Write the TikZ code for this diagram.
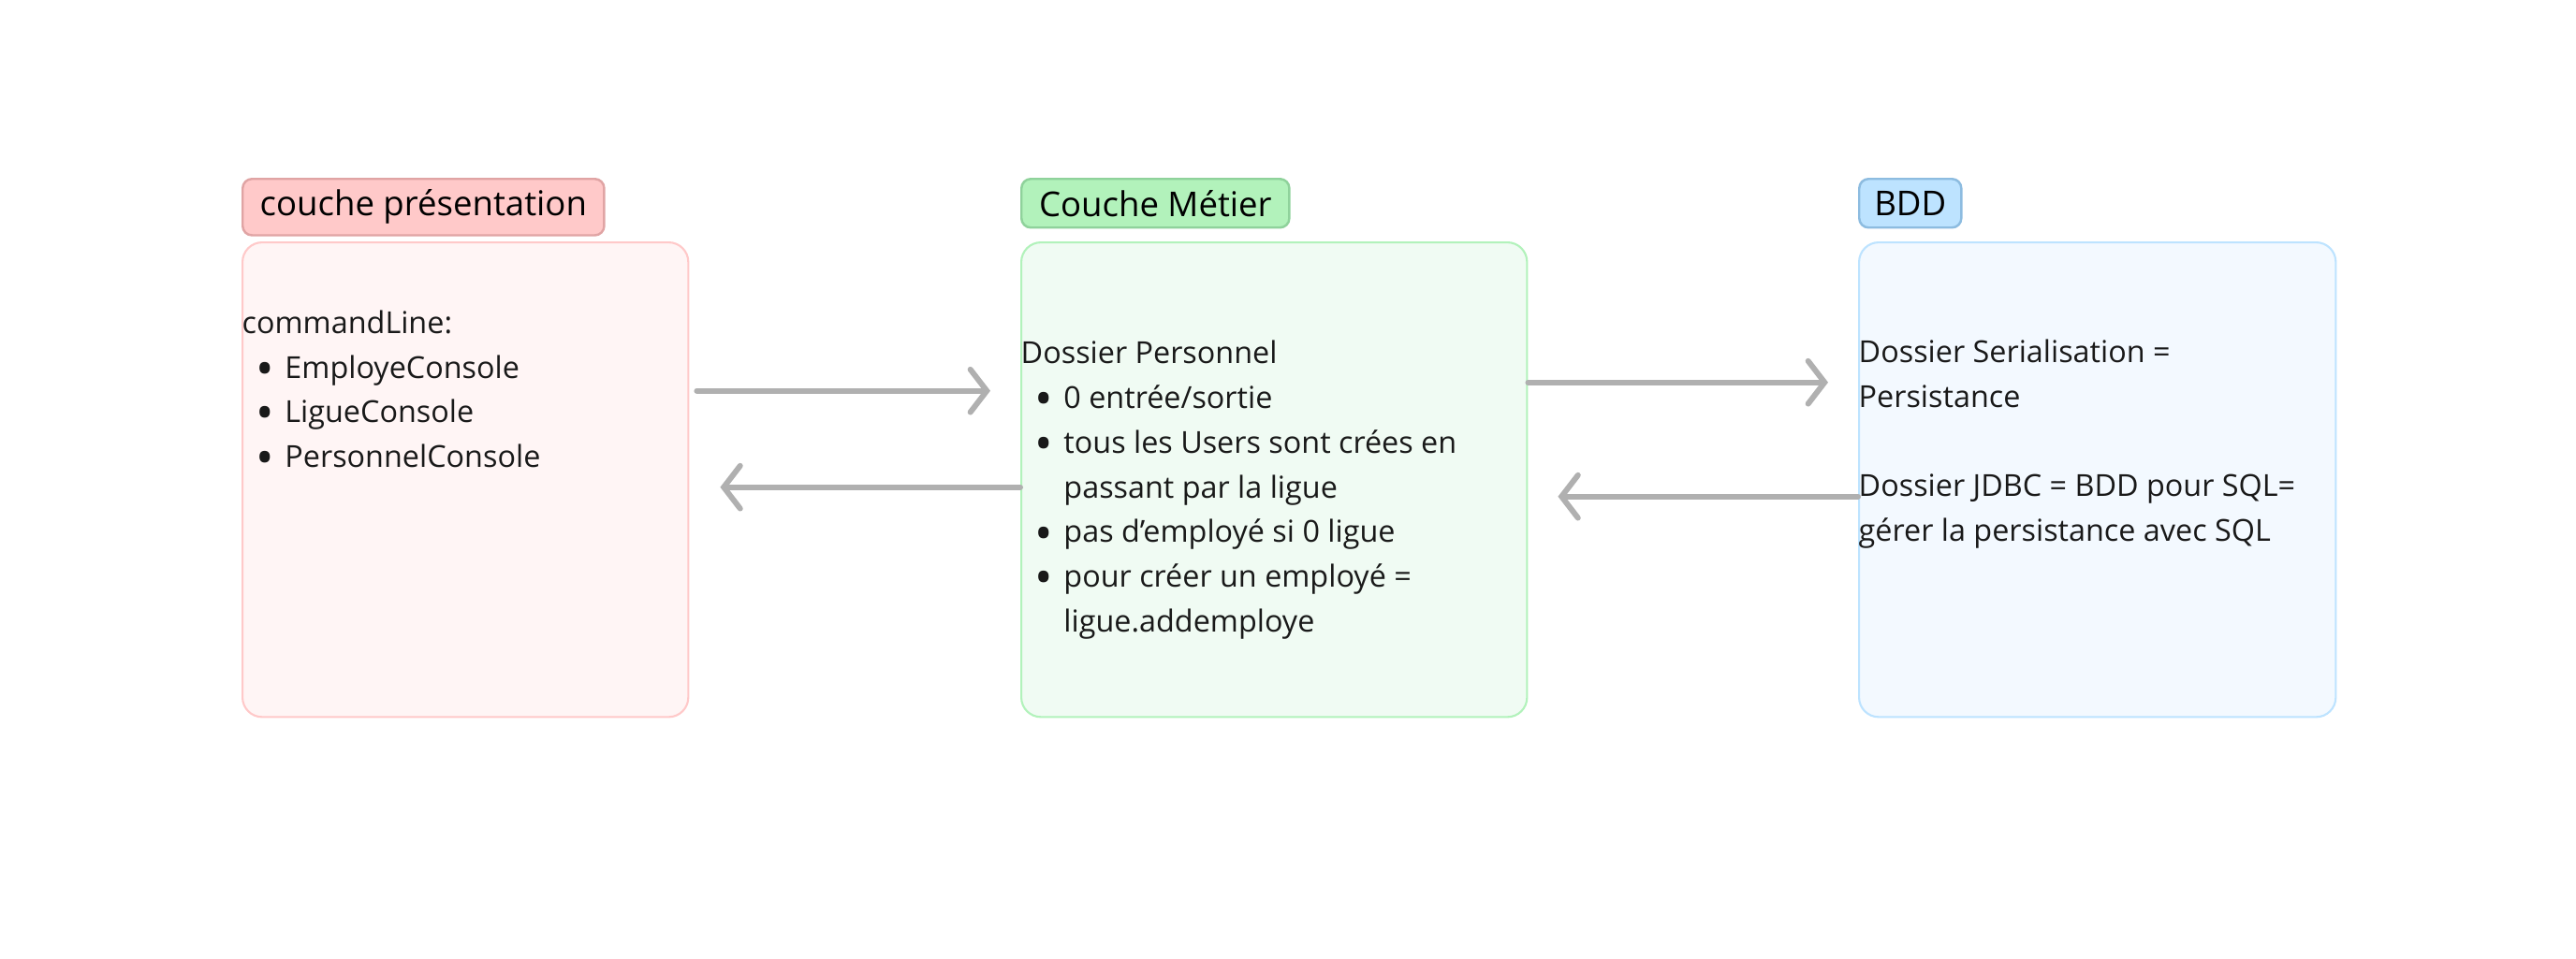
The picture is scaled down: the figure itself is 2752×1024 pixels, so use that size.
\documentclass[tikz,border=0pt]{standalone}
\usepackage{fontspec}
\setmainfont{Open Sans}
\usetikzlibrary{positioning, arrows.meta, calc}

\definecolor{roseTitre}{HTML}{FFC9C9}
\definecolor{roseBord}{HTML}{E0A4A4}
\definecolor{roseFond}{HTML}{FFF5F5}
\definecolor{vertTitre}{HTML}{B2F2BB}
\definecolor{vertBord}{HTML}{8FD29B}
\definecolor{vertFond}{HTML}{F0FBF3}
\definecolor{bleuTitre}{HTML}{BDE3FF}
\definecolor{bleuBord}{HTML}{8DBCE0}
\definecolor{bleuFond}{HTML}{F3F9FF}
\definecolor{fleche}{HTML}{B0B0B0}

\newcommand{\puce}{\makebox[13pt][l]{\hspace{4.2pt}\raisebox{-2.3pt}{\scalebox{1.6}{\textbullet}}}}
\newcommand{\suite}{\hspace*{13pt}}

\begin{document}
\begin{tikzpicture}[
    x=0.01cm, y=0.01cm,
    titre/.style={draw, rounded corners=0.1cm, line width=0.7pt, minimum height=0.52cm, inner xsep=4pt, anchor=north west, font=\fontsize{10.4}{12}\selectfont},
    couche/.style={draw, rounded corners=0.21cm, line width=0.6pt, anchor=north west, minimum height=5.07cm},
    contenu/.style={anchor=west, inner sep=0pt, align=left, font=\fontsize{9.2}{13.6}\selectfont, text=black!90},
    fleche/.style={draw=fleche, line width=1.7pt, line cap=round, -{Straight Barb[length=5pt, width=13pt, line cap=round]}}
]
    \useasboundingbox (0,0) rectangle (2752,-1024);

    % ================= TITRES =================
    \node[titre, fill=roseTitre, draw=roseBord, minimum width=3.86cm] (tpres) at (258,-190) {couche présentation};
    \node[titre, fill=vertTitre, draw=vertBord, minimum width=2.86cm] (tmetier) at (1090,-190) {Couche Métier};
    \node[titre, fill=bleuTitre, draw=bleuBord, minimum width=1.09cm] (tbdd) at (1985,-190) {BDD};

    % ================= COUCHES =================
    \node[couche, fill=roseFond, draw=roseTitre, minimum width=4.76cm] (pres) at (258,-258) {};
    \node[couche, fill=vertFond, draw=vertTitre, minimum width=5.40cm] (metier) at (1090,-258) {};
    \node[couche, fill=bleuFond, draw=bleuTitre, minimum width=5.09cm] (bdd) at (1985,-258) {};

    \node[contenu] (txtpres) at ($(pres.west)+(0,93)$) {commandLine:\\
        \puce EmployeConsole\\
        \puce LigueConsole\\
        \puce PersonnelConsole};
    \node[contenu] (txtmetier) at ($(metier.west)+(0,-11)$) {Dossier Personnel\\
        \puce 0 entrée/sortie\\
        \puce tous les Users sont crées en\\
        \suite passant par la ligue\\
        \puce pas d’employé si 0 ligue\\
        \puce pour créer un employé =\\
        \suite ligue.addemploye};
    \node[contenu] (txtbdd) at ($(bdd.west)+(0,38)$) {Dossier Serialisation =\\
        Persistance\\
        \mbox{}\\
        Dossier JDBC = BDD pour SQL=\\
        gérer la persistance avec SQL};

    % ================= FLECHES =================
    \draw[fleche] ($(pres.east)+(8,95)$) -- ($(metier.west)+(-32,95)$);
    \draw[fleche] ($(metier.west)+(0,-8)$) -- ($(pres.east)+(33,-8)$);
    \draw[fleche] ($(metier.east)+(0,104)$) -- ($(bdd.west)+(-32,104)$);
    \draw[fleche] ($(bdd.west)+(0,-18)$) -- ($(metier.east)+(32,-18)$);

\end{tikzpicture}
\end{document}
